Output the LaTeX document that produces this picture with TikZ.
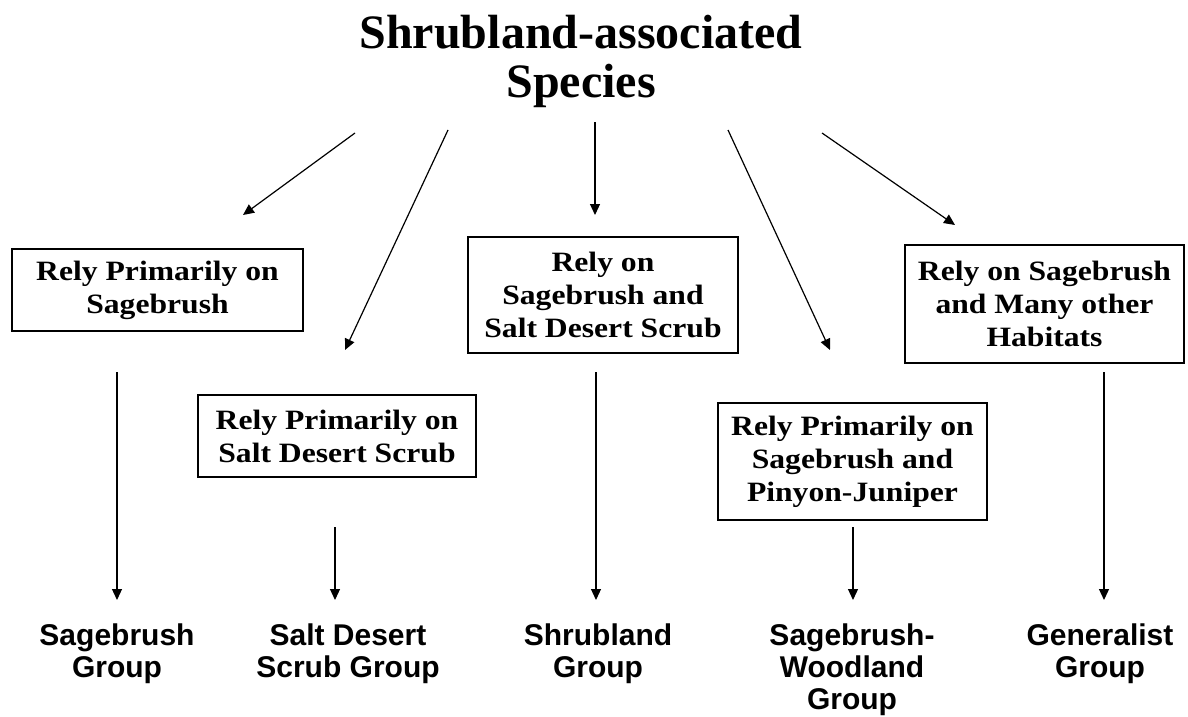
\documentclass[tikz,border=0pt]{standalone}
\usepackage{fontspec}
\setmainfont{Liberation Serif}
\newfontfamily\boxfont[FakeStretch=1.13]{Liberation Serif}
\newfontfamily\labfont{Liberation Sans}
\usetikzlibrary{arrows.meta}
\begin{document}
\begin{tikzpicture}[x=1pt,y=-1pt,
  arr/.style={line width=1.2pt, -{Triangle[length=11pt,width=10pt]}},
  box/.style={draw, line width=1.3pt, align=center, inner sep=0pt,
    font=\boxfont\bfseries\fontsize{28}{33}\selectfont},
  lab/.style={align=center, inner sep=0pt, anchor=north,
    font=\labfont\bfseries\fontsize{30}{32}\selectfont}]
\useasboundingbox[fill=white] (0,0) rectangle (1188,717);

\node[align=center, inner sep=0pt, font=\bfseries\fontsize{48}{49}\selectfont] (title) at (581,61) {Shrubland-associated\\Species};

\node[box, minimum width=291pt, minimum height=82pt] (b1) at (157.5,290) {Rely Primarily on\\Sagebrush};
\node[box, minimum width=278pt, minimum height=82pt] (b2) at (337,436) {Rely Primarily on\\Salt Desert Scrub};
\node[box, minimum width=270pt, minimum height=116pt] (b3) at (603,295) {Rely on\\Sagebrush and\\Salt Desert Scrub};
\node[box, minimum width=269pt, minimum height=117pt] (b4) at (852.5,461.5) {Rely Primarily on\\Sagebrush and\\Pinyon-Juniper};
\node[box, minimum width=279pt, minimum height=118pt] (b5) at (1044.5,304) {Rely on Sagebrush\\and Many other\\Habitats};

\node[lab] (g1) at (117,624) {Sagebrush\\Group};
\node[lab] (g2) at (348,624) {Salt Desert\\Scrub Group};
\node[lab] (g3) at (598,624) {Shrubland\\Group};
\node[lab] (g4) at (852,624) {Sagebrush-\\Woodland\\Group};
\node[lab] (g5) at (1100,624) {Generalist\\Group};

% title arrows
\coordinate (t1) at (355,133); \coordinate (e1) at (243,215);
\coordinate (t2) at (448,130); \coordinate (e2) at (345,350);
\coordinate (t3) at (595,122); \coordinate (e3) at (595,215);
\coordinate (t4) at (728,130); \coordinate (e4) at (830,350);
\coordinate (t5) at (822,133); \coordinate (e5) at (955,225);
\draw[arr] (t1) -- (e1);
\draw[arr] (t2) -- (e2);
\draw[arr] (t3) -- (e3);
\draw[arr] (t4) -- (e4);
\draw[arr] (t5) -- (e5);

% box to group arrows
\coordinate (s1) at (117,372); \coordinate (f1) at (117,600);
\coordinate (s2) at (335,527); \coordinate (f2) at (335,600);
\coordinate (s3) at (596,372); \coordinate (f3) at (596,600);
\coordinate (s4) at (853,527); \coordinate (f4) at (853,600);
\coordinate (s5) at (1104,372); \coordinate (f5) at (1104,600);
\draw[arr] (s1) -- (f1);
\draw[arr] (s2) -- (f2);
\draw[arr] (s3) -- (f3);
\draw[arr] (s4) -- (f4);
\draw[arr] (s5) -- (f5);
\end{tikzpicture}
\end{document}
